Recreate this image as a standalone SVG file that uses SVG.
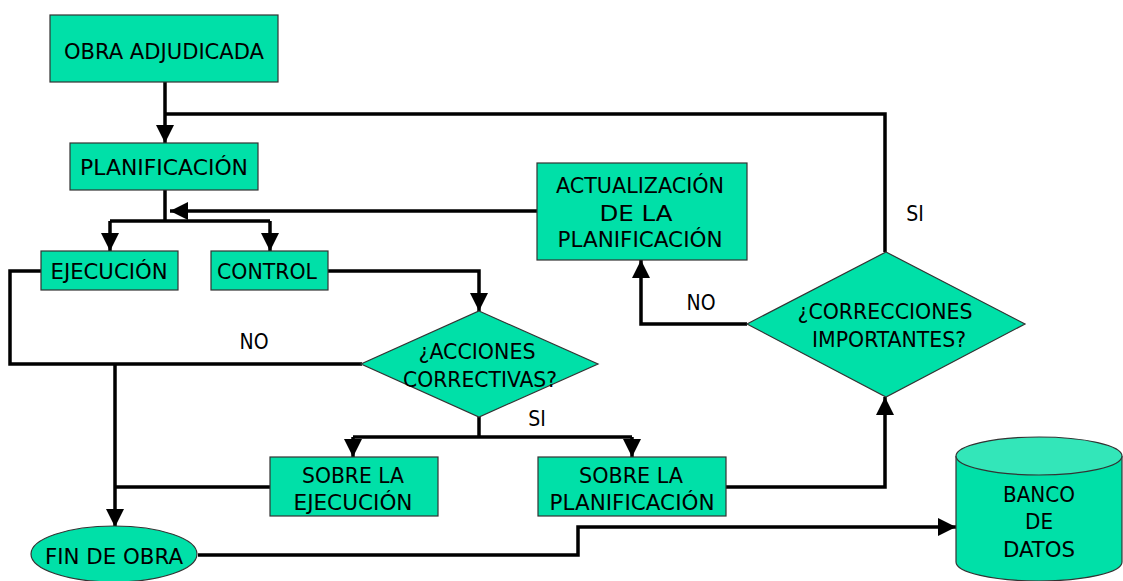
<svg xmlns="http://www.w3.org/2000/svg" width="1123" height="581" viewBox="0 0 1123 581">
<style>
.n{fill:#00E0A8;stroke:#333;stroke-width:1.2}
.t{font-family:"DejaVu Sans Condensed","DejaVu Sans",sans-serif;font-size:22px;fill:#000;text-anchor:middle}
.l{font-family:"DejaVu Sans Condensed","DejaVu Sans",sans-serif;font-size:21px;fill:#000;text-anchor:middle}
.c{fill:none;stroke:#000;stroke-width:3.5;stroke-linejoin:miter}
</style>
<defs>
<marker id="ah" viewBox="0 0 18 18" refX="18" refY="9" markerWidth="18" markerHeight="18" markerUnits="userSpaceOnUse" orient="auto">
<path d="M0,0 L18,9 L0,18 Z" fill="#000"/>
</marker>
</defs>
<rect width="1123" height="581" fill="#fff"/>
<g id="connectors">
<path class="c" d="M165,82 V143" marker-end="url(#ah)"/>
<path class="c" d="M885,252 V114 H165"/>
<path class="c" d="M165,190 V221"/>
<path class="c" d="M110,221 H270"/>
<path class="c" d="M110,221 V251" marker-end="url(#ah)"/>
<path class="c" d="M270,221 V251" marker-end="url(#ah)"/>
<path class="c" d="M537,211 H170" marker-end="url(#ah)"/>
<path class="c" d="M328,271 H479 V311" marker-end="url(#ah)"/>
<path class="c" d="M41,271 H10 V364 H362"/>
<path class="c" d="M115,364 V527" marker-end="url(#ah)"/>
<path class="c" d="M270,487 H115"/>
<path class="c" d="M479,417 V437"/>
<path class="c" d="M353,437 H632"/>
<path class="c" d="M353,437 V457" marker-end="url(#ah)"/>
<path class="c" d="M632,437 V457" marker-end="url(#ah)"/>
<path class="c" d="M726,487 H885 V397" marker-end="url(#ah)"/>
<path class="c" d="M747,324 H641 V260" marker-end="url(#ah)"/>
<path class="c" d="M198,555 H578 V527 H956" marker-end="url(#ah)"/>
<text class="l" x="254" y="349">NO</text>
<text class="l" x="537" y="426">SI</text>
<text class="l" x="701" y="310">NO</text>
<text class="l" x="915" y="221">SI</text>
</g>
<g id="obra">
<rect class="n" x="50" y="15" width="228" height="67"/>
<text class="t" x="164" y="59" textLength="200" lengthAdjust="spacingAndGlyphs">OBRA ADJUDICADA</text>
</g>
<g id="planificacion">
<rect class="n" x="70" y="143" width="188" height="47"/>
<text class="t" x="164" y="175" textLength="168" lengthAdjust="spacingAndGlyphs">PLANIFICACIÓN</text>
</g>
<g id="ejecucion">
<rect class="n" x="41" y="251" width="137" height="39"/>
<text class="t" x="109" y="279" textLength="117" lengthAdjust="spacingAndGlyphs">EJECUCIÓN</text>
</g>
<g id="control">
<rect class="n" x="211" y="251" width="117" height="39"/>
<text class="t" x="267" y="279" textLength="100" lengthAdjust="spacingAndGlyphs">CONTROL</text>
</g>
<g id="acciones">
<polygon class="n" points="479,311 598,364 479,417 361,364"/>
<text class="t" x="477" y="359" textLength="117" lengthAdjust="spacingAndGlyphs">¿ACCIONES</text>
<text class="t" x="480" y="387" textLength="154" lengthAdjust="spacingAndGlyphs">CORRECTIVAS?</text>
</g>
<g id="sobre-ejecucion">
<rect class="n" x="270" y="457" width="168" height="59"/>
<text class="t" x="353" y="483" textLength="102" lengthAdjust="spacingAndGlyphs">SOBRE LA</text>
<text class="t" x="353" y="510" textLength="119" lengthAdjust="spacingAndGlyphs">EJECUCIÓN</text>
</g>
<g id="sobre-planificacion">
<rect class="n" x="538" y="457" width="188" height="59"/>
<text class="t" x="631" y="483" textLength="104" lengthAdjust="spacingAndGlyphs">SOBRE LA</text>
<text class="t" x="632" y="510" textLength="165" lengthAdjust="spacingAndGlyphs">PLANIFICACIÓN</text>
</g>
<g id="actualizacion">
<rect class="n" x="537" y="163" width="210" height="97"/>
<text class="t" x="640" y="193" textLength="168" lengthAdjust="spacingAndGlyphs">ACTUALIZACIÓN</text>
<text class="t" x="636" y="221" textLength="73" lengthAdjust="spacingAndGlyphs">DE LA</text>
<text class="t" x="640" y="247" textLength="165" lengthAdjust="spacingAndGlyphs">PLANIFICACIÓN</text>
</g>
<g id="correcciones">
<polygon class="n" points="886,252 1025,324 886,397 747,324"/>
<text class="t" x="885" y="319" textLength="175" lengthAdjust="spacingAndGlyphs">¿CORRECCIONES</text>
<text class="t" x="889" y="347" textLength="154" lengthAdjust="spacingAndGlyphs">IMPORTANTES?</text>
</g>
<g id="fin">
<ellipse class="n" cx="114" cy="554" rx="83" ry="28"/>
<text class="t" x="114" y="564" textLength="138" lengthAdjust="spacingAndGlyphs">FIN DE OBRA</text>
</g>
<g id="banco">
<path class="n" d="M956,456 V562 A83,19 0 0 0 1122,562 V456"/>
<ellipse cx="1039" cy="456" rx="83" ry="19" fill="#33E6B9" stroke="#333" stroke-width="1.2"/>
<text class="t" x="1039" y="502" textLength="72" lengthAdjust="spacingAndGlyphs">BANCO</text>
<text class="t" x="1039" y="529" textLength="28" lengthAdjust="spacingAndGlyphs">DE</text>
<text class="t" x="1039" y="557" textLength="72" lengthAdjust="spacingAndGlyphs">DATOS</text>
</g>
</svg>
